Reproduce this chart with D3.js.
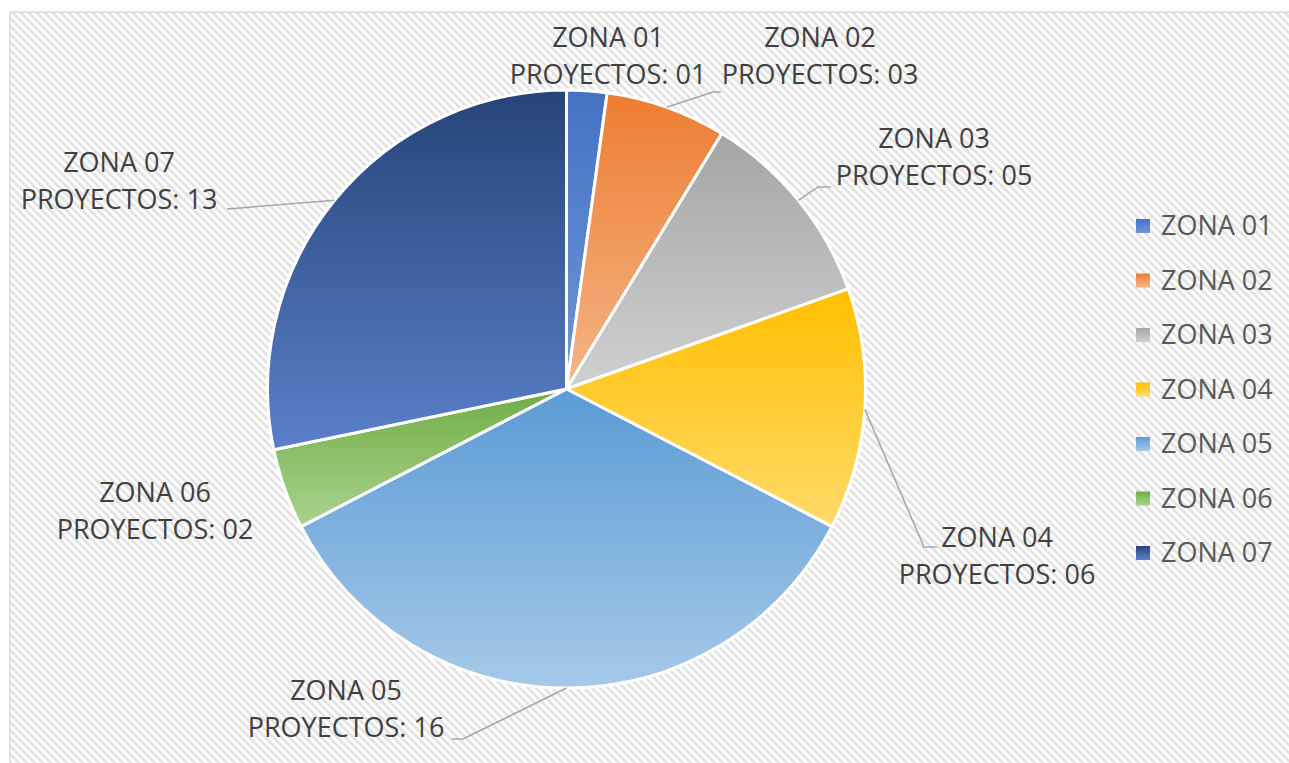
<!DOCTYPE html>
<html>
<head>
<meta charset="utf-8">
<script src="https://cdn.jsdelivr.net/npm/d3@7"></script>
<style>
  html, body { margin: 0; padding: 0; background: #fff; }
  svg { display: block; }
  text { font-family: "Open Sans", "Noto Sans", sans-serif; }
</style>
</head>
<body>
<div id="chart"></div>
<script>
// Data
const zones = ['ZONA 01', 'ZONA 02', 'ZONA 03', 'ZONA 04', 'ZONA 05', 'ZONA 06', 'ZONA 07'];
const projects = [1, 3, 5, 6, 16, 2, 13];
const projectLabels = ['01', '03', '05', '06', '16', '02', '13'];

// Gradient colours (top, bottom) for each slice
const colorTop = ['#4472C4', '#ED7D31', '#A5A5A5', '#FFC000', '#5B9BD5', '#70AD47', '#264478'];
const colorBottom = ['#7096D8', '#F5B588', '#D0D0D0', '#FFDA6A', '#A6C9E9', '#AAD38F', '#5B80C9'];

// Label layout: centre x and first baseline y; leader attach points near the label
const labelPos = [[608, 47], [820, 47], [934, 148], [997, 547], [346, 700], [155, 502], [119, 172]];
const leaderEnds = [null, [[721, 92], [713, 92]], [[831, 187], [818, 187]], [[937, 547], [924, 547]],
    [[452, 739], [463, 739]], null, [[227, 209], [240, 208]]];

const width = 1289, height = 763;
const cx = 566.5, cy = 389, radius = 299;

const svg = d3.select('#chart')
    .append('svg')
    .attr('width', width)
    .attr('height', height);

const defs = svg.append('defs');

// Diagonal hatch background
const pattern = defs.append('pattern')
    .attr('id', 'hatch')
    .attr('patternUnits', 'userSpaceOnUse')
    .attr('width', 8)
    .attr('height', 8);
pattern.append('rect').attr('width', 8).attr('height', 8).attr('fill', '#ffffff');
pattern.append('path')
    .attr('d', 'M0,0 L2,0 L8,6 L8,8 L6,8 L0,2 Z M6,0 L8,0 L8,2 Z M0,6 L2,8 L0,8 Z')
    .attr('fill', '#e3e3e3');

zones.forEach((z, i) => {
    const grad = defs.append('linearGradient')
        .attr('id', 'grad' + i)
        .attr('x1', 0).attr('y1', 0)
        .attr('x2', 0).attr('y2', 1);
    grad.append('stop').attr('offset', '0%').attr('stop-color', colorTop[i]);
    grad.append('stop').attr('offset', '100%').attr('stop-color', colorBottom[i]);
});

// Chart area
svg.append('rect')
    .attr('x', 10)
    .attr('y', 12)
    .attr('width', width + 10)
    .attr('height', height + 10)
    .attr('fill', 'url(#hatch)')
    .attr('stroke', '#d9d9d9')
    .attr('stroke-width', 1.5);

const g = svg.append('g')
    .attr('transform', `translate(${cx},${cy})`);

const pie = d3.pie().sort(null).value(d => d);
const arcs = pie(projects);

const arc = d3.arc().innerRadius(0).outerRadius(radius);
const edgeArc = d3.arc().innerRadius(radius).outerRadius(radius);

g.selectAll('path.slice')
    .data(arcs)
    .join('path')
    .attr('class', 'slice')
    .attr('d', arc)
    .attr('fill', (d, i) => `url(#grad${i})`)
    .attr('stroke', '#ffffff')
    .attr('stroke-width', 3)
    .attr('stroke-linejoin', 'round');

// Leader lines
const line = d3.line();
arcs.forEach((d, i) => {
    if (!leaderEnds[i]) return;
    const [ex, ey] = edgeArc.centroid(d);
    const pts = leaderEnds[i].map(p => [p[0], p[1]]).concat([[ex + cx, ey + cy]]);
    svg.append('path')
        .attr('d', line(pts))
        .attr('fill', 'none')
        .attr('stroke', '#a6a6a6')
        .attr('stroke-width', 1.5);
});

// Data labels
zones.forEach((z, i) => {
    const t = svg.append('text')
        .attr('x', labelPos[i][0])
        .attr('y', labelPos[i][1])
        .attr('text-anchor', 'middle')
        .style('font-size', '27px')
        .style('fill', '#404040');
    t.append('tspan').attr('x', labelPos[i][0]).text(z);
    t.append('tspan').attr('x', labelPos[i][0]).attr('dy', 37).text('PROYECTOS: ' + projectLabels[i]);
});

// Legend
const legend = svg.append('g')
    .attr('transform', 'translate(1136,219)');

const items = legend.selectAll('g')
    .data(zones)
    .join('g')
    .attr('transform', (d, i) => `translate(0,${i * 54.5})`);

items.append('rect')
    .attr('width', 14)
    .attr('height', 14)
    .attr('fill', (d, i) => `url(#grad${i})`);

items.append('text')
    .attr('x', 25)
    .attr('y', 16)
    .style('font-size', '27px')
    .style('fill', '#595959')
    .text(d => d);
</script>
</body>
</html>
